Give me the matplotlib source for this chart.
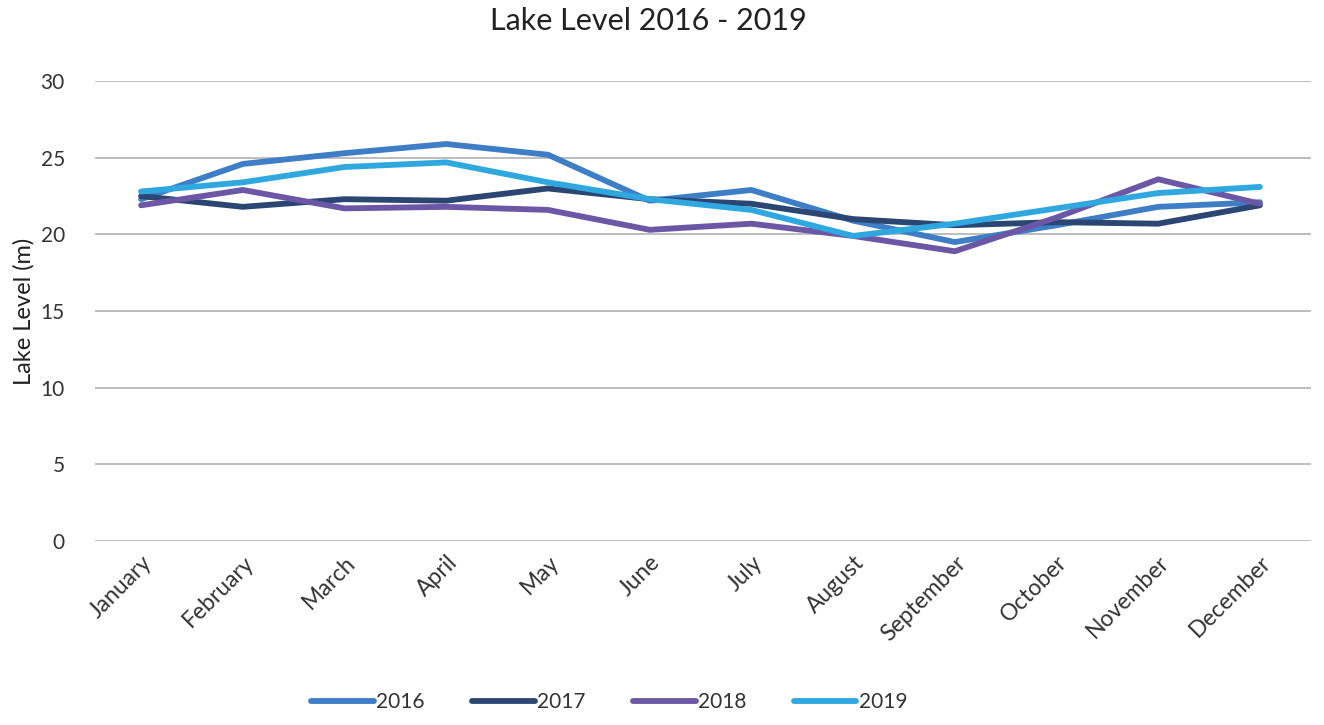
import matplotlib
matplotlib.use("Agg")
import matplotlib.pyplot as plt

months = ["January", "February", "March", "April", "May", "June", "July",
          "August", "September", "October", "November", "December"]
y2016 = [22.3, 24.6, 25.3, 25.9, 25.2, 22.2, 22.9, 20.9, 19.5, 20.6, 21.8, 22.1]
y2017 = [22.5, 21.8, 22.3, 22.2, 23.0, 22.3, 22.0, 21.0, 20.6, 20.8, 20.7, 21.9]
y2018 = [21.9, 22.9, 21.7, 21.8, 21.6, 20.3, 20.7, 19.9, 18.9, 21.1, 23.6, 22.0]
y2019 = [22.8, 23.4, 24.4, 24.7, 23.4, 22.3, 21.6, 19.9, 20.7, 21.7, 22.7, 23.1]
series = [("2016", y2016, "#3D7EC6"), ("2017", y2017, "#2B4672"),
          ("2018", y2018, "#6B57A5"), ("2019", y2019, "#2FA8E0")]

plt.rcParams['font.family'] = ['Lato', 'DejaVu Sans']

fig = plt.figure(figsize=(13.24, 7.25), dpi=100)
ax = fig.add_axes([0.072, 0.254, 0.918, 0.634])
x = range(len(months))
for name, vals, col in series:
    ax.plot(x, vals, color=col, lw=4.2, label=name, solid_capstyle='round')

ax.set_xlim(-0.45, 11.5)
ax.set_ylim(0, 30)
ax.set_yticks(range(0, 31, 5))
ax.yaxis.grid(True, color="#BDBDBD", lw=1.4)
ax.set_axisbelow(True)
for s in ax.spines.values():
    s.set_visible(False)
ax.tick_params(length=0, labelsize=15, colors="#333333")
ax.tick_params(axis='y', pad=22)
ax.set_xticks(list(x))
ax.set_xticklabels(months, rotation=45, ha='right', rotation_mode='anchor', fontsize=16.5)
ax.tick_params(axis='x', pad=8)
ax.set_ylabel("Lake Level (m)", fontsize=17, color="#222222", labelpad=4)
fig.suptitle("Lake Level 2016 - 2019", fontsize=22, color="#222222", x=0.49, y=0.99)
leg = fig.legend(loc='lower center', ncol=4, frameon=False, fontsize=15,
                 bbox_to_anchor=(0.46, -0.008), handlelength=3.0, handletextpad=0.1,
                 columnspacing=2.3)
for t in leg.get_texts():
    t.set_color("#333333")
fig.savefig("out.png", dpi=100)
